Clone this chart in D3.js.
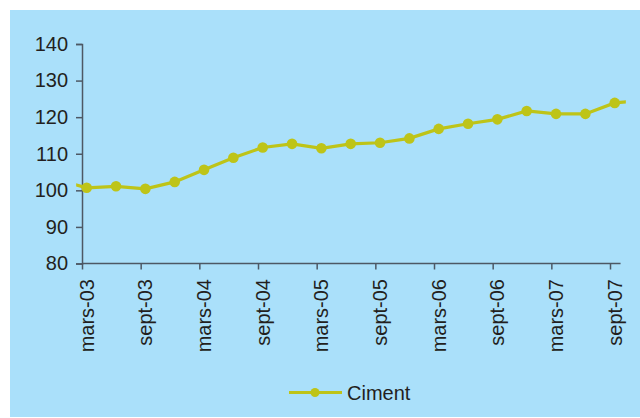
<!DOCTYPE html>
<html>
<head>
<meta charset="utf-8">
<script src="https://cdn.jsdelivr.net/npm/d3@7"></script>
<style>
  body { margin: 0; background: #fff; }
  svg { display: block; font-family: "Liberation Sans", Arial, sans-serif; }
</style>
</head>
<body>
<div id="chart"></div>
<script>
// quarterly index, mars-03 .. sept-07 (one point each side is cut by the plot edge)
const quarters = ['déc-02', 'mars-03', 'juin-03', 'sept-03', 'déc-03', 'mars-04', 'juin-04', 'sept-04', 'déc-04',
    'mars-05', 'juin-05', 'sept-05', 'déc-05', 'mars-06', 'juin-06', 'sept-06', 'déc-06',
    'mars-07', 'juin-07', 'sept-07', 'déc-07'];
const ciment = [102.8, 100.7, 101.1, 100.4, 102.3, 105.6, 108.9, 111.7, 112.7, 111.5,
    112.7, 113.0, 114.2, 116.8, 118.2, 119.4, 121.7, 120.9, 120.9, 123.9, 124.7];
const tickLabels = ['mars-03', 'sept-03', 'mars-04', 'sept-04', 'mars-05',
    'sept-05', 'mars-06', 'sept-06', 'mars-07', 'sept-07'];
const yTicks = [80, 90, 100, 110, 120, 130, 140];

const width = 640, height = 418;
const color = '#bec418', axisColor = '#4d5864', textColor = '#231f20';
const fontSize = '20px';

const svg = d3.select('#chart').append('svg')
    .attr('width', width)
    .attr('height', height);

svg.append('rect')
    .attr('x', 10).attr('y', 10)
    .attr('width', width - 10).attr('height', height - 11)
    .attr('fill', '#aae0fa');

// x is the position in the quarters list
const x = d3.scaleLinear().domain([1, 19]).range([86.7, 614.7]);
const y = d3.scaleLinear().domain([80, 140]).range([263.5, 44]);
const tickShift = -0.16; // axis ticks sit a little before each point

const data = ciment.map((v, i) => ({ q: quarters[i], i, v }));

svg.append('clipPath').attr('id', 'plot')
    .append('rect')
    .attr('x', x(0.64)).attr('y', 0)
    .attr('width', x(19.38) - x(0.64)).attr('height', height);

// y axis
const yAxis = svg.append('g')
    .attr('transform', `translate(${x(1 + tickShift)},0)`)
    .call(d3.axisLeft(y).tickValues(yTicks).tickSize(6).tickPadding(8));

// x axis
const xTickIdx = tickLabels.map(l => quarters.indexOf(l));
const xAxis = svg.append('g')
    .attr('transform', `translate(0,${y(80)})`)
    .call(d3.axisBottom(x).tickValues(xTickIdx.map(i => i + tickShift)).tickSize(6).tickFormat(''));
xAxis.select('.domain').attr('d', `M${x(1 + tickShift)},0H${x(19.2)}`);

[yAxis, xAxis].forEach(a => {
    a.select('.domain').attr('stroke', axisColor).attr('stroke-width', 1.5);
    a.selectAll('.tick line').attr('stroke', axisColor).attr('stroke-width', 1.5);
});
yAxis.selectAll('.tick text')
    .attr('fill', textColor)
    .style('font-size', fontSize);

svg.append('g')
    .selectAll('text')
    .data(tickLabels)
    .join('text')
    .attr('transform', d => `translate(${x(quarters.indexOf(d))},${y(80) + 15.5}) rotate(-90)`)
    .attr('dy', '0.35em')
    .attr('text-anchor', 'end')
    .attr('fill', textColor)
    .style('font-size', fontSize)
    .text(d => d);

// series
const line = d3.line().x(d => x(d.i)).y(d => y(d.v));

svg.append('path')
    .datum(data)
    .attr('clip-path', 'url(#plot)')
    .attr('d', line)
    .attr('fill', 'none')
    .attr('stroke', color)
    .attr('stroke-width', 3.2);

svg.append('g')
    .selectAll('circle')
    .data(data.filter(d => d.i >= 1 && d.i <= 19))
    .join('circle')
    .attr('cx', d => x(d.i))
    .attr('cy', d => y(d.v))
    .attr('r', 5.3)
    .attr('fill', color);

// legend
const legend = svg.append('g').attr('transform', 'translate(289,392.5)');
legend.append('line')
    .attr('x1', 0).attr('x2', 53)
    .attr('stroke', color).attr('stroke-width', 3);
legend.append('circle')
    .attr('cx', 26).attr('r', 4.5)
    .attr('fill', color);
legend.append('text')
    .attr('x', 58).attr('dy', '0.35em')
    .attr('fill', textColor)
    .style('font-size', fontSize)
    .text('Ciment');
</script>
</body>
</html>
